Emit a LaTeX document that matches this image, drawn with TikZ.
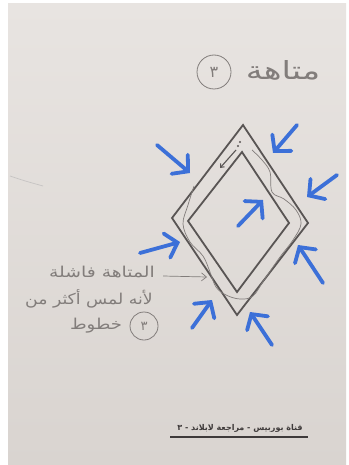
\documentclass[tikz,border=0pt]{standalone}
\usepackage{fontspec}
\usetikzlibrary{arrows.meta}
\newfontfamily\arabicfont[Script=Arabic]{DejaVu Sans}
\TeXXeTstate=1
\definecolor{paper}{HTML}{E8E4E1}
\definecolor{paperdark}{HTML}{D9D4D0}
\definecolor{ink}{HTML}{595554}
\definecolor{pencil}{HTML}{817C7A}
\definecolor{handtext}{HTML}{827D7B}
\definecolor{bluepen}{HTML}{3C70D8}
\definecolor{printink}{HTML}{3E3A3A}
\tikzset{
  diamondline/.style={draw=ink, line width=1.8pt, line join=miter},
  bluearrow/.style={draw=bluepen, line width=3.8pt, line cap=round, line join=round,
    -{Straight Barb[length=11pt,width=25pt,line cap=round]}},
  pencilthin/.style={draw=pencil, line width=0.7pt},
  handlabel/.style={text=handtext, font=\arabicfont\fontsize{15}{17}\selectfont, inner sep=0pt},
  circled/.style={circle, draw=handtext, line width=0.8pt, text=handtext, inner sep=0pt},
}
\begin{document}
\begin{tikzpicture}[x=1pt,y=-1pt]
\useasboundingbox (0,0) rectangle (348,465);
\fill[white] (0,0) rectangle (348,465);
\shade[bottom color=paperdark, top color=paper] (8,4) rectangle (346,465);
% faint stroke at left
\draw[pencil!45, line width=0.7pt] (10,176) .. controls (25,181) .. (43,186);
% title
\node[handlabel, font=\arabicfont\fontsize{25}{28}\selectfont] (title) at (283,70) {\scalebox{1.35}[1]{\beginR متاهة\endR}};
\node[circled, minimum size=34pt, font=\arabicfont\fontsize{16}{18}\selectfont] (t3) at (214,72) {\beginR ٣\endR};
% diamonds
\draw[diamondline] (243,125) -- (308,223) -- (237,315) -- (172,218) -- cycle;
\draw[diamondline] (242,152) -- (289,223) -- (237,292) -- (188,221) -- cycle;
% pencil path
\draw[pencilthin] plot[smooth, tension=0.6] coordinates {(194,186) (188,205) (183,224) (190,242) (203,256) (210,272) (216,287) (226,295) (240,299) (253,296) (264,280) (280,257) (293,240) (301,224) (296,210) (284,199) (272,192) (270,172) (262,160) (252,150)};
% small mark near top
\draw[ink, line width=1.1pt, -{Straight Barb[length=3pt,width=5pt]}] (236,150) -- (220,168);
\fill[ink] (240,142) circle (1.1pt) (238,146) circle (1.1pt);
% blue arrows
\coordinate (a1s) at (157,145); \coordinate (a1e) at (190,173);
\coordinate (a2s) at (297,125); \coordinate (a2e) at (273,153);
\coordinate (a3s) at (337,175); \coordinate (a3e) at (307,197);
\coordinate (a4s) at (238,226); \coordinate (a4e) at (263,200);
\coordinate (a5s) at (140,253); \coordinate (a5e) at (180,242);
\coordinate (a6s) at (323,283); \coordinate (a6e) at (298,245);
\coordinate (a7s) at (192,328); \coordinate (a7e) at (212,300);
\coordinate (a8s) at (272,345); \coordinate (a8e) at (250,312);
\foreach \i in {1,...,8} {\draw[bluearrow] (a\i s) -- (a\i e);}
% left label
\node[handlabel] (l1) at (102,272) {\scalebox{1.25}[1]{\beginR المتاهة فاشلة\endR}};
\node[handlabel] (l2) at (89,299) {\scalebox{1.15}[1]{\beginR لأنه لمس أكثر من\endR}};
\node[handlabel] (l3) at (96,326) {\scalebox{1.2}[1]{\beginR خطوط\endR}};
\node[circled, minimum size=28pt, font=\arabicfont\fontsize{13}{15}\selectfont] (c3) at (144,326) {\beginR ٣\endR};
\coordinate (labtip) at (207,277);
\draw[pencilthin, -{Straight Barb[length=5pt,width=8pt]}] ([xshift=8pt,yshift=-4pt]l1.east) -- (labtip);
% footer
\node[text=printink, font=\arabicfont\bfseries\fontsize{8}{10}\selectfont, inner sep=0pt] (foot) at (240,428) {\beginR قناة بوربيس - مراجعة لابلاند - ٣\endR};
\draw[printink, line width=1.8pt] (170,437) -- (308,437);
\end{tikzpicture}
\end{document}
